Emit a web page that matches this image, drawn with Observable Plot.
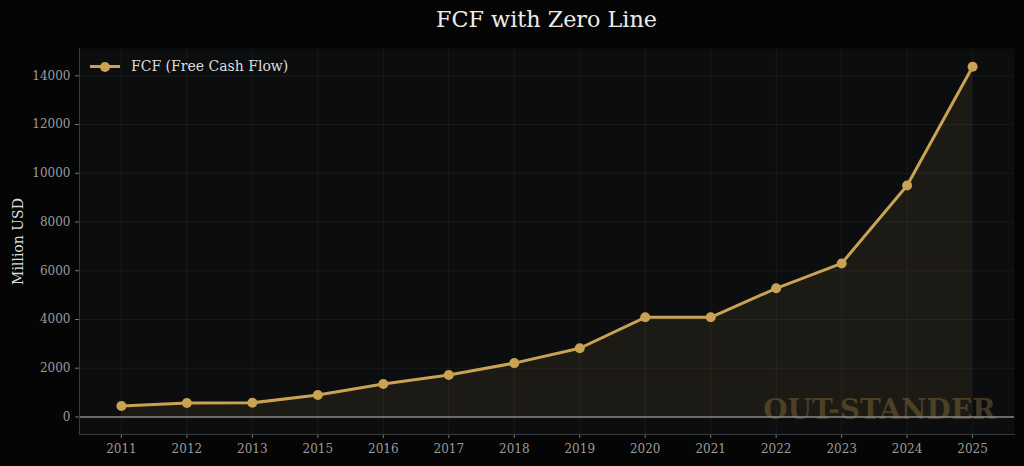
<!DOCTYPE html>
<html>
<head>
<meta charset="utf-8">
<script src="https://cdn.jsdelivr.net/npm/d3@7"></script>
<script src="https://cdn.jsdelivr.net/npm/@observablehq/plot@0.6"></script>
<style>
  html, body { margin: 0; padding: 0; background: #050505; }
  #fig { position: relative; width: 1024px; height: 466px; background: #050505; font-family: "DejaVu Serif", serif; overflow: hidden; }
  #title { position: absolute; left: 79px; width: 935px; top: 6px; text-align: center; color: #ececec; font-size: 22.3px; }
  #chart { position: absolute; left: 0; top: 48px; }
  #legend { position: absolute; left: 90px; top: 57px; display: flex; align-items: center; color: #dddddd; font-size: 14px; }
  #legend .sw { position: relative; width: 30px; height: 18px; margin-right: 11px; }
  #legend .sw .ln { position: absolute; left: 0; top: 8px; width: 30px; height: 3px; background: #c9a253; }
  #legend .sw .dt { position: absolute; left: 10px; top: 4.5px; width: 10px; height: 10px; border-radius: 50%; background: #c9a253; }
  g[aria-label="y-axis label"] text { fill: #dddddd; font-size: 14px; }
</style>
</head>
<body>
<div id="fig">
  <div id="title">FCF with Zero Line</div>
  <div id="chart"></div>
  <div id="legend"><div class="sw"><div class="ln"></div><div class="dt"></div></div><span>FCF (Free Cash Flow)</span></div>
</div>
<script>
const years = ["2011","2012","2013","2015","2016","2017","2018","2019","2020","2021","2022","2023","2024","2025"];
const fcf = [450, 570, 580, 900, 1350, 1720, 2210, 2820, 4090, 4090, 5280, 6300, 9500, 14370];
const yTicks = [0, 2000, 4000, 6000, 8000, 10000, 12000, 14000];
const watermark = "OUT-STANDER";
const yLabel = "Million USD";

const data = years.map((y, i) => ({year: y, value: fcf[i]}));
const gold = "#c9a253";

const chart = Plot.plot({
  width: 1024,
  height: 418,
  marginLeft: 79,
  marginRight: 10,
  marginTop: 0,
  marginBottom: 32,
  style: {background: "transparent", fontFamily: "DejaVu Serif", fontSize: "12px", color: "#9a9a9a"},
  x: {type: "point", domain: years, padding: 0.64, round: false},
  y: {domain: [-720, 15120]},
  marks: [
    Plot.frame({fill: "#0c0d0f", stroke: null}),
    Plot.gridX(years, {stroke: "#ffffff", strokeOpacity: 0.05}),
    Plot.gridY(yTicks, {stroke: "#ffffff", strokeOpacity: 0.05}),
    Plot.areaY(data, {x: "year", y: "value", fill: gold, fillOpacity: 0.09}),
    Plot.text([watermark], {frameAnchor: "bottom-right", textAnchor: "end", lineAnchor: "bottom", dx: -19, dy: -16, fontSize: 28, fontWeight: "bold", fill: gold, fillOpacity: 0.28}),
    Plot.ruleY([0], {stroke: "#8a8a8a", strokeWidth: 1.5}),
    Plot.axisX({ticks: years, tickSize: 4, stroke: "#777", fill: "#9a9a9a", tickPadding: 6, label: null}),
    Plot.axisY({ticks: yTicks, tickSize: 4, stroke: "#777", fill: "#9a9a9a", tickFormat: "d", tickPadding: 5, label: yLabel, labelAnchor: "center", labelArrow: "none", labelOffset: 66}),
    Plot.frame({anchor: "left", stroke: "#3a3a3a"}),
    Plot.frame({anchor: "bottom", stroke: "#3a3a3a"}),
    Plot.line(data, {x: "year", y: "value", stroke: gold, strokeWidth: 3}),
    Plot.dot(data, {x: "year", y: "value", r: 5, fill: gold, stroke: null})
  ]
});
document.getElementById("chart").appendChild(chart);
</script>
</body>
</html>
